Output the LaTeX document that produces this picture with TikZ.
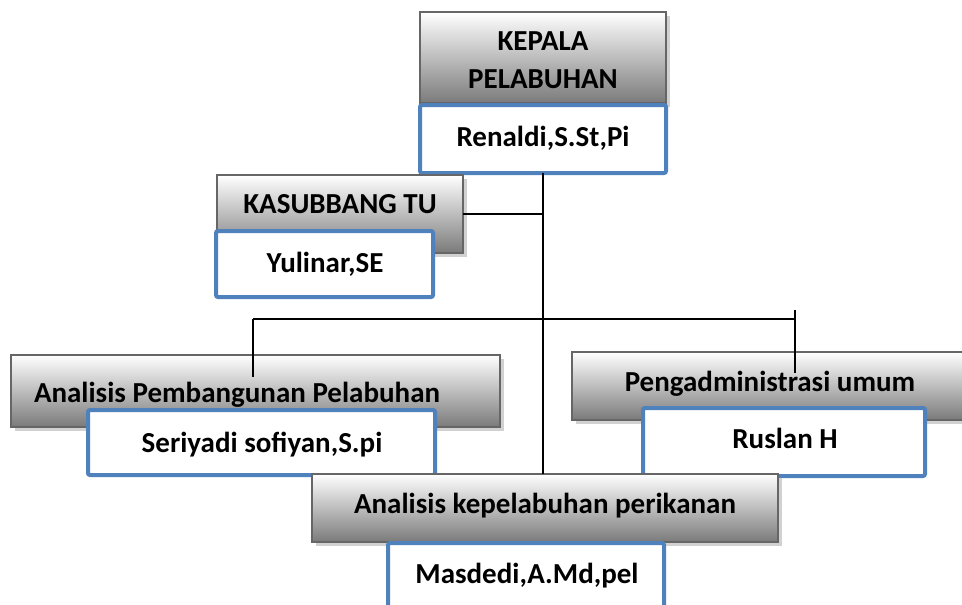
\documentclass[tikz,border=0pt]{standalone}
\usepackage{fontspec}
\setmainfont{Carlito}
\usetikzlibrary{shadows}
\definecolor{garisbiru}{HTML}{4F81BD}

\begin{document}
\begin{tikzpicture}[x=1pt,y=-1pt,
  jabatan/.style={draw=black!60,line width=2pt,top color=white,bottom color=black!52,
    anchor=north west,inner sep=0pt,outer sep=0pt,
    drop shadow={shadow xshift=4pt,shadow yshift=-4pt,fill=black!18,opacity=1}},
  pejabat/.style={draw=garisbiru,line width=4pt,fill=white,rounded corners=2pt,
    anchor=north west,inner sep=0pt,outer sep=0pt},
  teks/.style={anchor=base,inner sep=0pt,font=\fontsize{29}{38}\selectfont\bfseries},
  garis/.style={line width=1.5pt}]

\clip (0,0) rectangle (962,605);

% kepala pelabuhan
\node[jabatan,minimum width=246,minimum height=91] (kepala) at (420,12) {};
\node[teks,anchor=center,align=center] (tkepala) at (543,60) {KEPALA\\PELABUHAN};
\node[pejabat,minimum width=246,minimum height=68] (renaldi) at (420,105) {};
\node[teks] (trenaldi) at (543,146) {Renaldi,S.St,Pi};

% kasubbang tu
\node[jabatan,minimum width=246,minimum height=78] (kasubbang) at (217,175) {};
\node[teks] (tkasubbang) at (340,213) {KASUBBANG TU};
\node[pejabat,minimum width=217,minimum height=66] (yulinar) at (216,231) {};
\node[teks] (tyulinar) at (325,272) {Yulinar,SE};

% analisis pembangunan
\node[jabatan,minimum width=489,minimum height=72] (pembangunan) at (11,355) {};
\node[teks] (tpembangunan) at (237,402) {Analisis Pembangunan Pelabuhan};
\node[pejabat,minimum width=347,minimum height=65] (seriyadi) at (88,410) {};
\node[teks] (tseriyadi) at (262,452) {Seriyadi sofiyan,S.pi};

% pengadministrasi umum
\node[jabatan,minimum width=410,minimum height=68] (umum) at (572,352) {};
\node[teks] (tumum) at (770,391) {Pengadministrasi umum};
\node[pejabat,minimum width=282,minimum height=68] (ruslan) at (643,408) {};
\node[teks] (truslan) at (785,448) {Ruslan H};

% analisis kepelabuhan
\node[jabatan,minimum width=466,minimum height=68] (perikanan) at (312,474) {};
\node[teks] (tperikanan) at (545,513) {Analisis kepelabuhan perikanan};
\node[pejabat,minimum width=276,minimum height=80] (masdedi) at (388,543) {};
\node[teks] (tmasdedi) at (527,583) {Masdedi,A.Md,pel};

% garis
\coordinate (busL) at (253,319);
\coordinate (busR) at (795,319);
\coordinate (ujungL) at (253,377);
\coordinate (ujungR) at (795,373);
\coordinate (atasR) at (795,310);

\draw[garis] (renaldi.south) -- (renaldi.south |- perikanan.north);
\draw[garis] (kasubbang.east) -- (kasubbang.east -| renaldi.south);
\draw[garis] (busL) -- (busR);
\draw[garis] (busL) -- (ujungL);
\draw[garis] (atasR) -- (ujungR);

\end{tikzpicture}
\end{document}
